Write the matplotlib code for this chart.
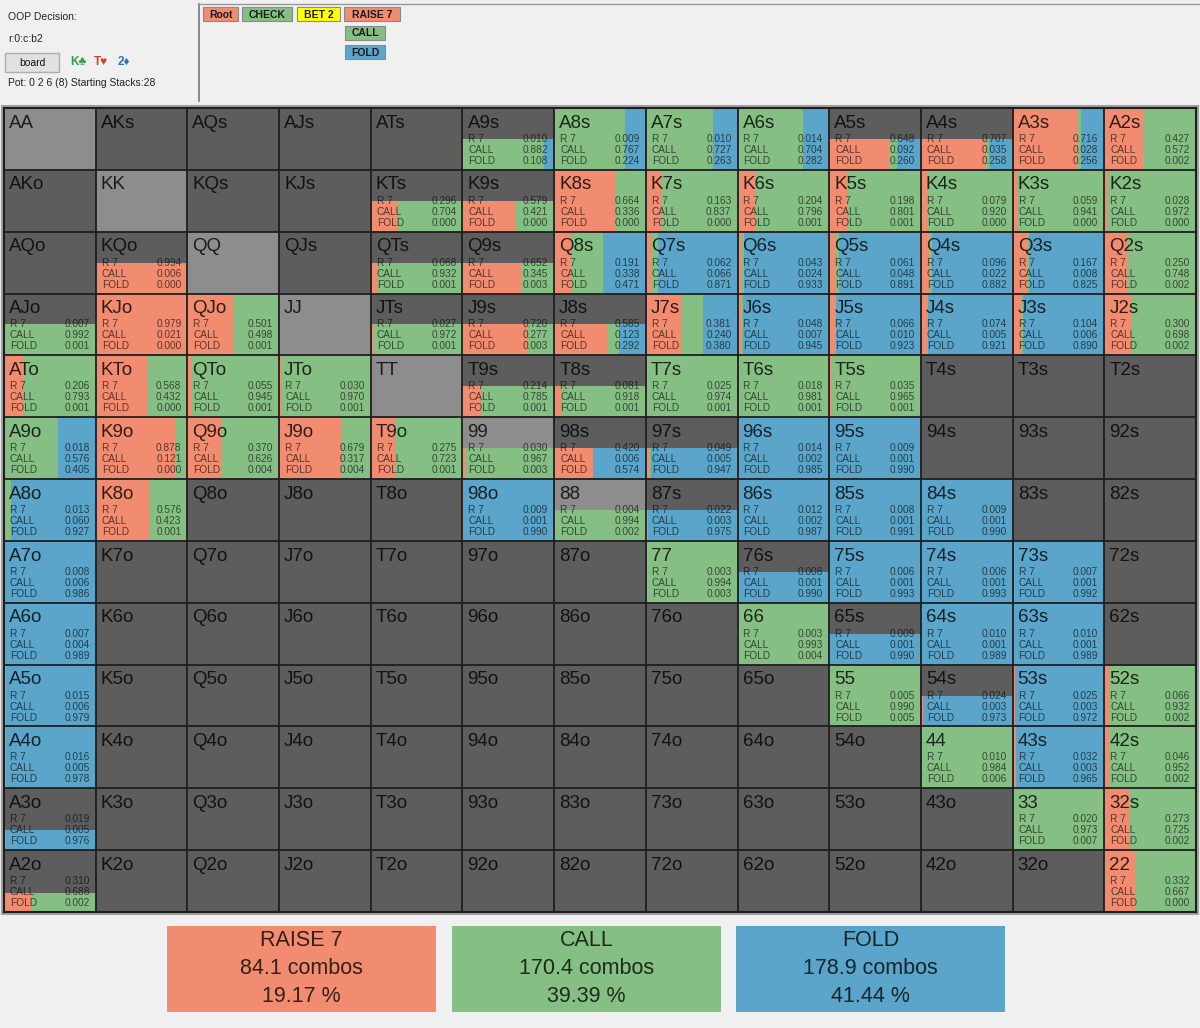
import matplotlib.pyplot as plt
from matplotlib.patches import Rectangle
from matplotlib import font_manager

# --- Data ---
RANKS = "AKQJT98765432"

# hands that are still in the range (row by row of the 13x13 grid)
HANDS = [
    "A9s", "A8s", "A7s", "A6s", "A5s", "A4s", "A3s", "A2s",
    "KTs", "K9s", "K8s", "K7s", "K6s", "K5s", "K4s", "K3s", "K2s",
    "KQo", "QTs", "Q9s", "Q8s", "Q7s", "Q6s", "Q5s", "Q4s", "Q3s", "Q2s",
    "AJo", "KJo", "QJo", "JTs", "J9s", "J8s", "J7s", "J6s", "J5s", "J4s", "J3s", "J2s",
    "ATo", "KTo", "QTo", "JTo", "T9s", "T8s", "T7s", "T6s", "T5s",
    "A9o", "K9o", "Q9o", "J9o", "T9o", "99", "98s", "97s", "96s", "95s",
    "A8o", "K8o", "98o", "88", "87s", "86s", "85s", "84s",
    "A7o", "77", "76s", "75s", "74s", "73s",
    "A6o", "66", "65s", "64s", "63s",
    "A5o", "55", "54s", "53s", "52s",
    "A4o", "44", "43s", "42s",
    "A3o", "33", "32s",
    "A2o", "22",
]

# share of the hand's combos in the range (fill height)
WEIGHT = [
    0.5, 1, 1, 1, 0.5, 0.5, 1, 1,
    0.5, 0.5, 1, 1, 1, 1, 1, 1, 1,
    0.5, 0.5, 0.5, 1, 1, 1, 1, 1, 1, 1,
    0.5, 1, 1, 0.5, 0.5, 0.5, 1, 1, 1, 1, 1, 1,
    1, 1, 1, 1, 0.5, 0.5, 1, 1, 1,
    1, 1, 1, 1, 1, 0.5, 0.5, 0.5, 1, 1,
    1, 1, 1, 0.5, 0.5, 1, 1, 1,
    1, 1, 0.5, 1, 1, 1,
    1, 1, 0.5, 1, 1,
    1, 1, 0.5, 1, 1,
    1, 1, 1, 1,
    0.33, 1, 1,
    0.3, 1,
]

RAISE = [
    0.010, 0.009, 0.010, 0.014, 0.648, 0.707, 0.716, 0.427,
    0.296, 0.579, 0.664, 0.163, 0.204, 0.198, 0.079, 0.059, 0.028,
    0.994, 0.068, 0.652, 0.191, 0.062, 0.043, 0.061, 0.096, 0.167, 0.250,
    0.007, 0.979, 0.501, 0.027, 0.720, 0.585, 0.381, 0.048, 0.066, 0.074, 0.104, 0.300,
    0.206, 0.568, 0.055, 0.030, 0.214, 0.081, 0.025, 0.018, 0.035,
    0.018, 0.878, 0.370, 0.679, 0.275, 0.030, 0.420, 0.049, 0.014, 0.009,
    0.013, 0.576, 0.009, 0.004, 0.022, 0.012, 0.008, 0.009,
    0.008, 0.003, 0.008, 0.006, 0.006, 0.007,
    0.007, 0.003, 0.009, 0.010, 0.010,
    0.015, 0.005, 0.024, 0.025, 0.066,
    0.016, 0.010, 0.032, 0.046,
    0.019, 0.020, 0.273,
    0.310, 0.332,
]

CALL = [
    0.882, 0.767, 0.727, 0.704, 0.092, 0.035, 0.028, 0.572,
    0.704, 0.421, 0.336, 0.837, 0.796, 0.801, 0.920, 0.941, 0.972,
    0.006, 0.932, 0.345, 0.338, 0.066, 0.024, 0.048, 0.022, 0.008, 0.748,
    0.992, 0.021, 0.498, 0.972, 0.277, 0.123, 0.240, 0.007, 0.010, 0.005, 0.006, 0.698,
    0.793, 0.432, 0.945, 0.970, 0.785, 0.918, 0.974, 0.981, 0.965,
    0.576, 0.121, 0.626, 0.317, 0.723, 0.967, 0.006, 0.005, 0.002, 0.001,
    0.060, 0.423, 0.001, 0.994, 0.003, 0.002, 0.001, 0.001,
    0.006, 0.994, 0.001, 0.001, 0.001, 0.001,
    0.004, 0.993, 0.001, 0.001, 0.001,
    0.006, 0.990, 0.003, 0.003, 0.932,
    0.005, 0.984, 0.003, 0.952,
    0.005, 0.973, 0.725,
    0.688, 0.667,
]

FOLD = [
    0.108, 0.224, 0.263, 0.282, 0.260, 0.258, 0.256, 0.002,
    0.000, 0.000, 0.000, 0.000, 0.001, 0.001, 0.000, 0.000, 0.000,
    0.000, 0.001, 0.003, 0.471, 0.871, 0.933, 0.891, 0.882, 0.825, 0.002,
    0.001, 0.000, 0.001, 0.001, 0.003, 0.292, 0.380, 0.945, 0.923, 0.921, 0.890, 0.002,
    0.001, 0.000, 0.001, 0.001, 0.001, 0.001, 0.001, 0.001, 0.001,
    0.405, 0.000, 0.004, 0.004, 0.001, 0.003, 0.574, 0.947, 0.985, 0.990,
    0.927, 0.001, 0.990, 0.002, 0.975, 0.987, 0.991, 0.990,
    0.986, 0.003, 0.990, 0.993, 0.993, 0.992,
    0.989, 0.004, 0.990, 0.989, 0.989,
    0.979, 0.005, 0.973, 0.972, 0.002,
    0.978, 0.006, 0.965, 0.002,
    0.976, 0.007, 0.002,
    0.002, 0.000,
]

SUMMARY_ACTIONS = ["RAISE 7", "CALL", "FOLD"]
SUMMARY_COMBOS = [84.1, 170.4, 178.9]
SUMMARY_PCT = [19.17, 39.39, 41.44]

# --- Style ---
C_RAISE = "#F28C70"
C_CALL = "#85BF84"
C_FOLD = "#5AA5C9"
C_EMPTY = "#5D5D5D"
C_PAIR = "#8D8D8D"
C_BG = "#F0F0F0"

plt.rcParams["font.family"] = ["Liberation Sans", "DejaVu Sans"]
names = {f.name for f in font_manager.fontManager.ttflist}
NARROW = "Liberation Sans Narrow" if "Liberation Sans Narrow" in names else "Liberation Sans"

W, H = 1200, 1028
fig = plt.figure(figsize=(W / 100, H / 100), dpi=100, facecolor=C_BG)

# overlay axes in pixel units for the panel around the grid
ui = fig.add_axes([0, 0, 1, 1], zorder=0)
ui.set_xlim(0, W)
ui.set_ylim(H, 0)
ui.axis("off")


def hand_name(r, c):
    if r == c:
        return RANKS[r] * 2
    if r < c:
        return RANKS[r] + RANKS[c] + "s"
    return RANKS[c] + RANKS[r] + "o"


def hand_pos(h):
    a, b = RANKS.index(h[0]), RANKS.index(h[1])
    if len(h) == 2:
        return a, a
    if h[2] == "s":
        return a, b
    return b, a


# --- Header (left) ---
ui.text(8, 17, "OOP Decision:", fontsize=7.5, va="center", color="#222")
ui.text(8, 39, "r:0:c:b2", fontsize=7.5, va="center", color="#222")
ui.add_patch(Rectangle((5, 53), 54, 19, facecolor="#E1E1E1", edgecolor="#ADADAD", lw=1))
ui.text(32, 63, "board", fontsize=7.5, ha="center", va="center", color="#111")
ui.text(70, 62, "K♣", fontsize=8.5, fontweight="bold", va="center", color="#2E9E4E")
ui.text(94, 62, "T♥", fontsize=8.5, fontweight="bold", va="center", color="#D0402C")
ui.text(118, 62, "2♦", fontsize=8.5, fontweight="bold", va="center", color="#2A73B5")
ui.text(8, 83, "Pot: 0 2 6 (8) Starting Stacks:28", fontsize=7.5, va="center", color="#222")

# --- Header (tree buttons) ---
ui.plot([199, 199], [4, 101], color="#777", lw=1.2)
ui.plot([199, W], [4, 4], color="#999", lw=1)
buttons = [
    ("Root", 203, 7, 35, C_RAISE),
    ("CHECK", 242, 7, 50, C_CALL),
    ("BET 2", 297, 7, 43, "#FFFF00"),
    ("RAISE 7", 344, 7, 56, C_RAISE),
    ("CALL", 345, 26, 40, C_CALL),
    ("FOLD", 345, 45, 40, C_FOLD),
]
for label, bx, by, bw, col in buttons:
    ui.add_patch(Rectangle((bx, by), bw, 14, facecolor=col, edgecolor="#8A8A8A", lw=0.8))
    ui.text(bx + bw / 2, by + 7.5, label, fontsize=7.5, fontweight="bold",
            ha="center", va="center", color="#1A1A1A")

# frame around the grid
ui.add_patch(Rectangle((2, 106), 1196, 808, facecolor="none", edgecolor="#A0A0A0", lw=1.5))

# --- Range grid ---
ax = fig.add_axes([4 / W, 1 - 912 / H, 1192 / W, 804 / H], zorder=1)
ax.set_xlim(0, 13)
ax.set_ylim(0, 13)
ax.set_xticks([])
ax.set_yticks([])

# cell backgrounds
for r in range(13):
    for c in range(13):
        ax.bar(c, 1, width=1, bottom=12 - r, align="edge",
               color=C_PAIR if r == c else C_EMPTY, zorder=1)

# strategy stripes, filled from the bottom up to the hand weight
for i, h in enumerate(HANDS):
    r, c = hand_pos(h)
    w = WEIGHT[i]
    x0 = c
    for frac, col in ((RAISE[i], C_RAISE), (CALL[i], C_CALL), (FOLD[i], C_FOLD)):
        if frac > 0:
            ax.bar(x0, w, width=frac, bottom=12 - r, align="edge", color=col,
                   linewidth=0, zorder=2)
        x0 += frac

# grid lines
ax.vlines(range(1, 13), 0, 13, color="#1E1E1E", lw=1.3, zorder=4)
ax.hlines(range(1, 13), 0, 13, color="#1E1E1E", lw=1.3, zorder=4)
for s in ax.spines.values():
    s.set_color("#1E1E1E")
    s.set_linewidth(1.5)

# hand labels
for r in range(13):
    for c in range(13):
        top = 13 - r
        ax.text(c + 0.055, top - 0.245, hand_name(r, c), fontsize=13.5,
                va="center", ha="left", color="black", alpha=0.8, zorder=5)

# frequencies
for i, h in enumerate(HANDS):
    r, c = hand_pos(h)
    top = 13 - r
    for k, (lab, val) in enumerate((("R 7", RAISE[i]), ("CALL", CALL[i]), ("FOLD", FOLD[i]))):
        y = top - 0.50 - 0.178 * k
        ax.text(c + 0.065, y, lab, fontsize=7.3, va="center", ha="left",
                color="black", alpha=0.62, zorder=5)
        ax.text(c + 0.935, y, f"{val:.3f}", fontsize=7.3, va="center", ha="right",
                color="black", alpha=0.62, zorder=5)

# --- Summary boxes ---
box_x = [167, 452, 736]
box_cols = [C_RAISE, C_CALL, C_FOLD]
for j, act in enumerate(SUMMARY_ACTIONS):
    bx = box_x[j]
    ui.add_patch(Rectangle((bx, 926), 269, 86, facecolor=box_cols[j], edgecolor="none"))
    cx = bx + 134.5
    lines = [act, f"{SUMMARY_COMBOS[j]:.1f} combos", f"{SUMMARY_PCT[j]:.2f} %"]
    for k, t in enumerate(lines):
        ui.text(cx, 941 + 27.5 * k, t, fontsize=15.5, family=NARROW, ha="center",
                va="center", color="black", alpha=0.78)

fig.savefig("out.png", dpi=100, facecolor=C_BG)
